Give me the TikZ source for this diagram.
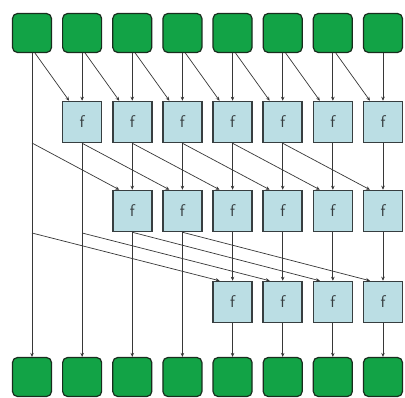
\documentclass[tikz,border=0pt]{standalone}
\usetikzlibrary{arrows.meta}
\definecolor{gfill}{RGB}{18,163,70}
\definecolor{gdraw}{RGB}{25,45,30}
\definecolor{ffill}{RGB}{187,222,228}
\definecolor{fdraw}{RGB}{55,62,64}
\definecolor{wire}{RGB}{55,55,55}
\begin{document}
\begin{tikzpicture}[x=1pt,y=-1pt,
  gbox/.style={draw=gdraw,fill=gfill,line width=1.2pt,rounded corners=5pt,minimum width=39pt,minimum height=39pt,inner sep=0pt},
  fbox/.style={draw=fdraw,fill=ffill,line width=1.5pt,minimum width=39pt,minimum height=41pt,inner sep=0pt,font=\sffamily\fontsize{17}{17}\selectfont,text=fdraw},
  link/.style={draw=wire,line width=0.7pt,-{Stealth[length=4pt,width=3.5pt]}}]
\useasboundingbox (0,0) rectangle (405,397);
\fill[white] (0,0) rectangle (405,397);
\foreach \i in {0,...,7}{
  \node[gbox] (in\i) at ({32+50.14*\i},33) {};
  \node[gbox] (out\i) at ({32+50.14*\i},377) {};
}
\foreach \i in {1,...,7}{ \node[fbox] (fa\i) at ({32+50.14*\i},122) {f}; }
\foreach \i in {2,...,7}{ \node[fbox] (fb\i) at ({32+50.14*\i},211) {f}; }
\foreach \i in {4,...,7}{ \node[fbox] (fc\i) at ({32+50.14*\i},302) {f}; }
% pass-through points
\coordinate (p0a) at (32,143);
\coordinate (p0b) at (32,233);
\coordinate (p1b) at ({32+50.14},233);
% verticals
\draw[link] (in0) -- (out0);
\foreach \i in {1,...,7}{ \draw[link] (in\i) -- (fa\i); }
\draw[link] (fa1) -- (out1);
\foreach \i in {2,...,7}{ \draw[link] (fa\i) -- (fb\i); }
\draw[link] (fb2) -- (out2);
\draw[link] (fb3) -- (out3);
\foreach \i in {4,...,7}{ \draw[link] (fb\i) -- (fc\i); \draw[link] (fc\i) -- (out\i); }
% diagonals level 1
\foreach \i [evaluate=\i as \j using int(\i+1)] in {0,...,6}{
  \draw[link] ([xshift=3pt]in\i.south) -- ([xshift=-13pt]fa\j.north);
}
% diagonals level 2
\draw[link] (p0a) -- ([xshift=-13pt]fb2.north);
\foreach \i [evaluate=\i as \j using int(\i+2)] in {1,...,5}{
  \draw[link] (fa\i.south) -- ([xshift=-13pt]fb\j.north);
}
% diagonals level 3
\draw[link] (p0b) -- ([xshift=-13pt]fc4.north);
\draw[link] (p1b) -- ([xshift=-13pt]fc5.north);
\draw[link] (fb2.south) -- ([xshift=-13pt]fc6.north);
\draw[link] (fb3.south) -- ([xshift=-13pt]fc7.north);
\end{tikzpicture}
\end{document}
